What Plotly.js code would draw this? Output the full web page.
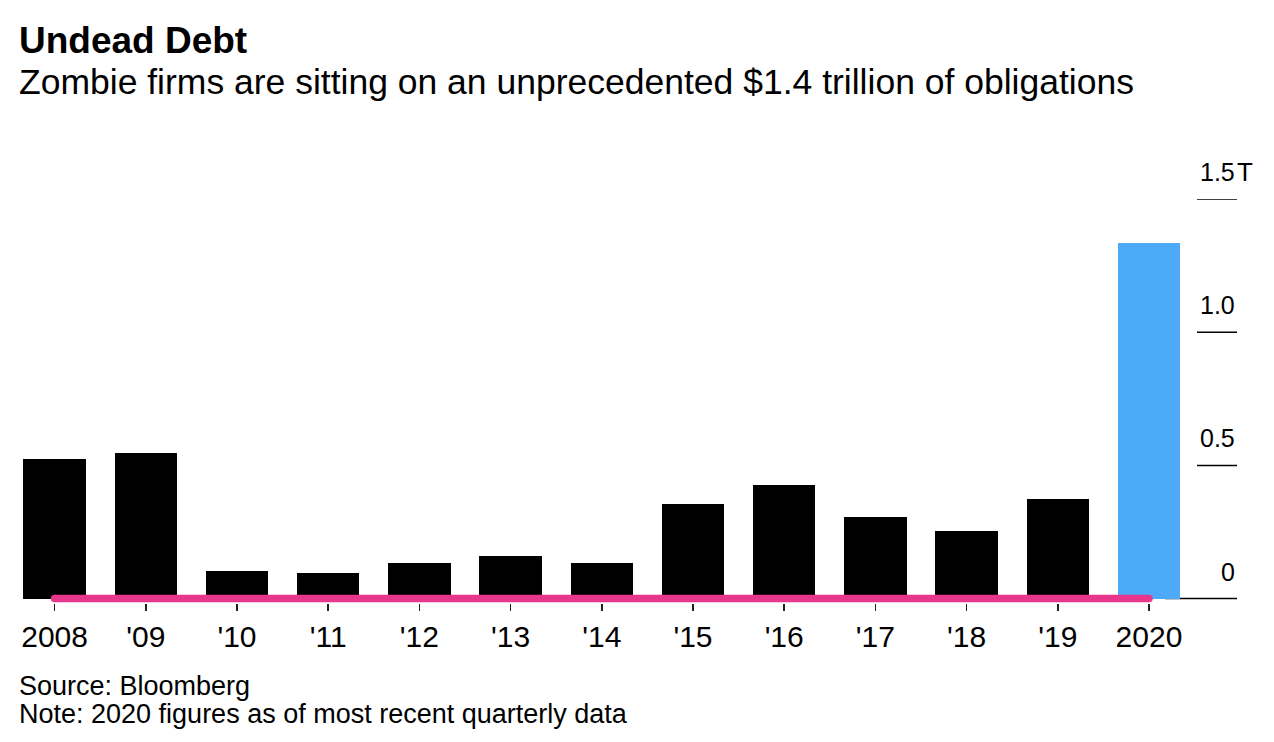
<!DOCTYPE html>
<html>
<head>
<meta charset="utf-8">
<script src="https://cdn.plot.ly/plotly-3.0.1.min.js"></script>
<style>
  html, body { margin: 0; padding: 0; background: #fff; }
  #chart { width: 1274px; height: 742px; }
</style>
</head>
<body>
<div id="chart"></div>
<script>
// ---- data ----
const years = ["2008", "'09", "'10", "'11", "'12", "'13", "'14", "'15", "'16", "'17", "'18", "'19", "2020"];
const debtTrillions = [0.524, 0.548, 0.105, 0.098, 0.135, 0.159, 0.134, 0.354, 0.428, 0.308, 0.255, 0.375, 1.335];
const yTickValues = [0, 0.5, 1.0, 1.5];
const yTickLabels = ["0", "0.5", "1.0", "1.5"];
const yTickSuffix = "T";

const titleText = "Undead Debt";
const subtitleText = "Zombie firms are sitting on an unprecedented $1.4 trillion of obligations";
const sourceText = "Source: Bloomberg";
const noteText = "Note: 2020 figures as of most recent quarterly data";

// ---- styling ----
const FONT = "Liberation Sans, Arial, Helvetica, sans-serif";
const BLACK = "#000000";
const BLUE = "#4DAAF8";
const PINK = "#E8368C";

const W = 1274, H = 742;
const M = { l: 9, r: 37, t: 199, b: 139 };
const Y_MIN = -0.0165, Y_MAX = 1.5;
const plotH = H - M.t - M.b;
const plotW = W - M.l - M.r;
const py = (px) => (H - M.b - px) / plotH;   // pixel row -> paper y
const pxX = (px) => (px - M.l) / plotW;      // pixel col -> paper x

const barColors = debtTrillions.map((v, i) => (i === debtTrillions.length - 1 ? BLUE : BLACK));

const bars = {
  type: "bar",
  x: years,
  y: debtTrillions,
  width: 0.683,
  marker: { color: barColors, line: { width: 0 } },
  hoverinfo: "skip"
};

const baseline = {
  type: "scatter",
  mode: "lines+markers",
  x: [years[0], years[years.length - 1]],
  y: [0, 0],
  line: { color: PINK, width: 7.5 },
  marker: { color: PINK, size: 7.5 },
  cliponaxis: false,
  hoverinfo: "skip"
};

// short right-hand tick rules; the zero rule sits below the bars
const shapes = yTickValues.map(v => ({
  type: "line",
  xref: "paper", yref: "y",
  x0: v === 0 ? pxX(1165) : pxX(1197), x1: 1,
  y0: v, y1: v,
  layer: v === 0 ? "below" : "above",
  line: { color: BLACK, width: 1.5 }
}));

const annotations = [];
yTickValues.forEach((v, i) => {
  annotations.push({
    xref: "paper", yref: "y",
    x: 1, y: v,
    xanchor: "right", yanchor: "middle",
    yshift: 27,
    text: yTickLabels[i],
    showarrow: false,
    font: { family: FONT, size: 25, color: BLACK }
  });
});
annotations.push({
  xref: "paper", yref: "y",
  x: 1, y: yTickValues[yTickValues.length - 1],
  xanchor: "left", yanchor: "middle",
  yshift: 27, xshift: -2,
  text: yTickSuffix,
  showarrow: false,
  font: { family: FONT, size: 26, color: BLACK }
});

annotations.push({
  xref: "paper", yref: "paper",
  x: pxX(17), y: py(40),
  xanchor: "left", yanchor: "middle",
  text: "<b>" + titleText + "</b>",
  showarrow: false,
  font: { family: FONT, size: 37, color: BLACK }
});
annotations.push({
  xref: "paper", yref: "paper",
  x: pxX(17), y: py(82),
  xanchor: "left", yanchor: "middle",
  text: subtitleText,
  showarrow: false,
  font: { family: FONT, size: 35.5, color: BLACK }
});
annotations.push({
  xref: "paper", yref: "paper",
  x: pxX(17), y: py(686),
  xanchor: "left", yanchor: "middle",
  text: sourceText,
  showarrow: false,
  font: { family: FONT, size: 27, color: BLACK }
});
annotations.push({
  xref: "paper", yref: "paper",
  x: pxX(17), y: py(714),
  xanchor: "left", yanchor: "middle",
  text: noteText,
  showarrow: false,
  font: { family: FONT, size: 27, color: BLACK }
});

const layout = {
  width: W, height: H,
  margin: M,
  paper_bgcolor: "#ffffff",
  plot_bgcolor: "#ffffff",
  showlegend: false,
  hovermode: false,
  bargap: 0,
  xaxis: {
    type: "category",
    range: [-0.5, 12.965],
    showgrid: false,
    zeroline: false,
    showline: false,
    ticks: "outside",
    ticklen: 7,
    tickwidth: 1.5,
    tickcolor: "#222222",
    tickfont: { family: FONT, size: 30, color: BLACK },
    layer: "below traces",
    fixedrange: true
  },
  yaxis: {
    range: [Y_MIN, Y_MAX],
    showgrid: false,
    showticklabels: false,
    ticks: "",
    zeroline: false,
    showline: false,
    fixedrange: true
  },
  shapes: shapes,
  annotations: annotations
};

Plotly.newPlot("chart", [bars, baseline], layout, { staticPlot: true, displayModeBar: false });
</script>
</body>
</html>
